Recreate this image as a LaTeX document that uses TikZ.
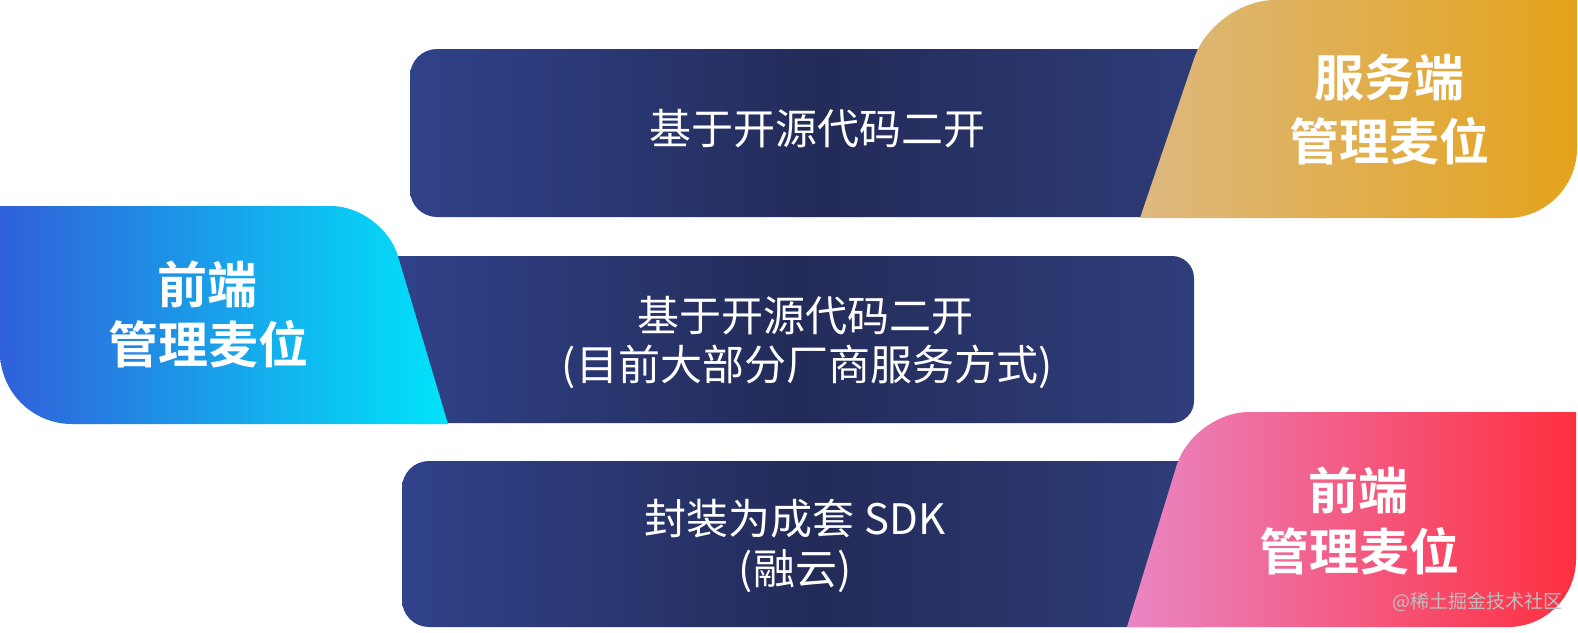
\documentclass[tikz,border=0pt]{standalone}
\usepackage{fontspec}
\newfontfamily\cjk{Noto Sans CJK SC}[BoldFont={Noto Sans CJK SC Bold}]
\usetikzlibrary{calc}
\definecolor{barL}{HTML}{30428A}
\definecolor{barM}{HTML}{232B58}
\definecolor{barR}{HTML}{2F3E7C}
\definecolor{goldL}{HTML}{DDB97F}
\definecolor{goldR}{HTML}{E4A31B}
\definecolor{blueL}{HTML}{3060DA}
\definecolor{blueR}{HTML}{00E4FA}
\definecolor{pinkL}{HTML}{E986C4}
\definecolor{pinkR}{HTML}{FE2F40}
\begin{document}
\begin{tikzpicture}[x=1pt,y=-1pt,
  bartext/.style={text=white,font=\cjk\fontsize{42}{49}\selectfont,anchor=base,inner sep=0pt},
  tabtext/.style={text=white,font=\cjk\bfseries\fontsize{50}{61}\selectfont,anchor=base,inner sep=0pt},
  barfill/.style={left color=barL,right color=barR,middle color=barM},
  wmark/.style={text=black!25,font=\cjk\fontsize{19}{19}\selectfont,anchor=center,inner sep=0pt}]
\fill[white] (0,0) rectangle (1578,632);
\useasboundingbox (0,0) rectangle (1578,632);

% bars
\shade[barfill,rounded corners=27pt] (410,49) rectangle (1240,217);
\shade[barfill] (390,256) -- (1172,256) .. controls (1184.1,256) and (1194,265.9) .. (1194,278)
  -- (1194,401) .. controls (1194,413.1) and (1184.1,423) .. (1172,423) -- (390,423) -- cycle;
\shade[barfill,rounded corners=27pt] (402,461) rectangle (1230,627);

% gold tab
\coordinate (gA) at (1140,218);
\coordinate (gB) at (1214,0);
\coordinate (gC) at (1577,0);
\coordinate (gD) at (1577,218);
\coordinate (gB1) at ($(gB)!61pt!(gA)$);
\coordinate (gB2) at ($(gB)!61pt!(gC)$);
\coordinate (gD1) at ($(gD)!70pt!(gC)$);
\coordinate (gD2) at ($(gD)!70pt!(gA)$);
\shade[left color=goldL,right color=goldR] (gA) -- (gB1)
  .. controls ($(gB1)!0.552!(gB)$) and ($(gB2)!0.552!(gB)$) .. (gB2) -- (gC) -- (gD1)
  .. controls ($(gD1)!0.552!(gD)$) and ($(gD2)!0.552!(gD)$) .. (gD2) -- cycle;

% blue tab
\coordinate (bTL) at (0,206);
\coordinate (bTR) at (383,206);
\coordinate (bBR) at (448,424);
\coordinate (bBL) at (0,424);
\coordinate (bTR1) at ($(bTR)!52pt!(bTL)$);
\coordinate (bTR2) at ($(bTR)!52pt!(bBR)$);
\coordinate (bBL1) at ($(bBL)!72pt!(bBR)$);
\coordinate (bBL2) at ($(bBL)!72pt!(bTL)$);
\shade[left color=blueL,right color=blueR] (bTL) -- (bTR1)
  .. controls ($(bTR1)!0.552!(bTR)$) and ($(bTR2)!0.552!(bTR)$) .. (bTR2) -- (bBR) -- (bBL1)
  .. controls ($(bBL1)!0.552!(bBL)$) and ($(bBL2)!0.552!(bBL)$) .. (bBL2) -- cycle;

% pink tab
\coordinate (pA) at (1127,627);
\coordinate (pB) at (1193,412);
\coordinate (pC) at (1576,412);
\coordinate (pD) at (1576,627);
\coordinate (pB1) at ($(pB)!56pt!(pA)$);
\coordinate (pB2) at ($(pB)!56pt!(pC)$);
\coordinate (pD1) at ($(pD)!68pt!(pC)$);
\coordinate (pD2) at ($(pD)!68pt!(pA)$);
\shade[left color=pinkL,right color=pinkR] (pA) -- (pB1)
  .. controls ($(pB1)!0.552!(pB)$) and ($(pB2)!0.552!(pB)$) .. (pB2) -- (pC) -- (pD1)
  .. controls ($(pD1)!0.552!(pD)$) and ($(pD2)!0.552!(pD)$) .. (pD2) -- cycle;

% bar texts
\node[bartext] (t1) at (817,144) {基于开源代码二开};
\node[bartext] (t2a) at (805,331.5) {基于开源代码二开};
\node[bartext] (t2b) at (807,380.5) {(目前大部分厂商服务方式)};
\node[bartext] (t3a) at (795,534.5) {封装为成套 SDK};
\node[bartext] (t3b) at (795,584.5) {(融云)};

% tab texts
\node[tabtext] (g1) at (1389,96.5) {服务端};
\node[tabtext] (g2) at (1389,160.5) {管理麦位};
\node[tabtext] (b1) at (207,303.5) {前端};
\node[tabtext] (b2) at (208,363.5) {管理麦位};
\node[tabtext] (p1) at (1358,509.5) {前端};
\node[tabtext] (p2) at (1359,570.5) {管理麦位};

% watermark
\node[wmark] (wm) at (1477,602) {@稀土掘金技术社区};
\end{tikzpicture}
\end{document}
